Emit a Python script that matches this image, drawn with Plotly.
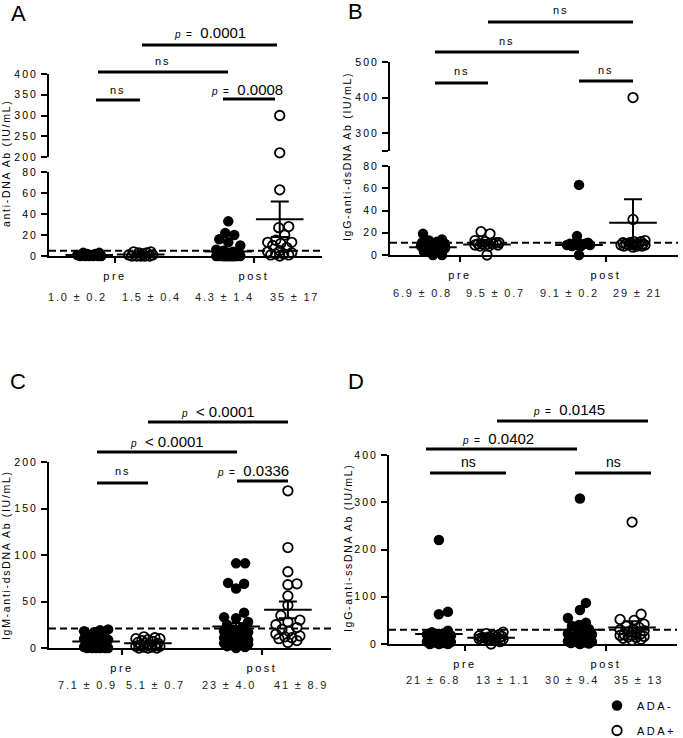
import plotly.graph_objects as go

W, H = 683, 738
FONT = "Liberation Sans, Arial, sans-serif"

timepoints = ["pre", "post"]
group_names = ["ADA-", "ADA+"]

# A: anti-DNA Ab
a_pre_neg = [0, 0, 0, 0, 0, 0, 1, 1, 2, 2, 3, 3]
a_pre_pos = [0, 0, 0, 0, 0, 1, 1, 2, 3, 3, 4, 4]
a_post_neg = [33, 22, 20, 16, 13, 10, 6, 5, 4, 3, 2, 2, 1, 1,
              0, 0, 0, 0, 0, 0, 0, 0, 0, 0, 0, 0, 0, 0, 0, 0, 0, 0]
a_post_pos = [300, 210, 63, 28, 27, 20, 15, 13, 13, 12, 10, 8, 5, 4, 3, 2, 2, 1, 1, 0]
a_mean = [1.0, 1.5, 4.3, 35]
a_sem = [0.2, 0.4, 1.4, 17]
a_stats = ["1.0 ± 0.2", "1.5 ± 0.4", "4.3 ± 1.4", "35 ± 17"]
a_cutoff = 5
a_ticks_low = [0, 20, 40, 60, 80]
a_ticks_high = [200, 250, 300, 350, 400]

# B: IgG-anti-dsDNA Ab
b_pre_neg = [19, 14, 13, 12, 11, 10, 10, 10, 9, 9, 8, 8, 6, 5, 3, 0, 0]
b_pre_pos = [21, 19, 13, 12, 11, 11, 10, 10, 10, 10, 9, 9, 9, 8, 8, 0]
b_post_neg = [63, 17, 11, 10, 10, 10, 10, 9, 9, 9, 8, 8, 0]
b_post_pos = [400, 32, 13, 12, 12, 11, 11, 10, 10, 10, 10, 10, 9, 9, 9, 9, 8, 8, 8, 7]
b_mean = [6.9, 9.5, 9.1, 29]
b_sem = [0.8, 0.7, 0.2, 21]
b_stats = ["6.9 ± 0.8", "9.5 ± 0.7", "9.1 ± 0.2", "29 ± 21"]
b_cutoff = 11
b_ticks_low = [0, 20, 40, 60, 80]
b_ticks_high = [250, 300, 400, 500]
b_labels_high = ["", "300", "400", "500"]

# C: IgM-anti-dsDNA Ab
c_pre_neg = [20, 19, 18, 17, 15, 14, 12, 10, 9, 8, 7, 6, 5, 4, 3, 2, 2, 1, 1,
             0, 0, 0, 0, 0, 0]
c_pre_pos = [12, 11, 10, 10, 9, 8, 7, 6, 5, 5, 4, 3, 3, 2, 2, 1, 1, 0, 0, 0]
c_post_neg = [91, 91, 70, 69, 64, 38, 33, 32, 28, 25, 22, 20, 18, 17, 15, 14,
              12, 11, 10, 9, 8, 7, 6, 5, 5, 4, 3, 3, 2, 1, 0]
c_post_pos = [169, 108, 82, 69, 68, 56, 46, 35, 30, 28, 25, 22, 20, 18, 15, 13,
              12, 11, 10, 8, 6]
c_mean = [7.1, 5.1, 23, 41]
c_sem = [0.9, 0.7, 4.0, 8.9]
c_stats = ["7.1 ± 0.9", "5.1 ± 0.7", "23 ± 4.0", "41 ± 8.9"]
c_cutoff = 21
c_ticks = [0, 50, 100, 150, 200]

# D: IgG-anti-ssDNA Ab
d_pre_neg = [220, 68, 63, 28, 25, 22, 20, 18, 17, 15, 14, 12, 10, 10, 8, 8, 6,
             6, 5, 4, 3, 2, 0, 0, 0]
d_pre_pos = [25, 22, 20, 18, 17, 16, 15, 15, 14, 13, 12, 12, 11, 10, 10, 9, 8, 5, 0]
d_post_neg = [308, 87, 72, 55, 45, 40, 38, 32, 28, 25, 22, 20, 18, 16, 15, 13,
              12, 10, 10, 8, 8, 6, 6, 5, 4, 3, 2, 1, 0]
d_post_pos = [258, 63, 52, 50, 42, 38, 35, 32, 30, 28, 25, 22, 20, 20, 18, 18,
              16, 15, 14, 12, 10, 8]
d_mean = [21, 13, 30, 35]
d_sem = [6.8, 1.1, 9.4, 13]
d_stats = ["21 ± 6.8", "13 ± 1.1", "30 ± 9.4", "35 ± 13"]
d_cutoff = 30
d_ticks = [0, 100, 200, 300, 400]


def sp(t, ls=2.5):
    return f'<span style="letter-spacing:{ls}px">{t}</span>'


def ns_label():
    return sp("ns", 2)


def p_label(op, val):
    if op == "<":
        return f'<i>p</i>&nbsp;&nbsp;&nbsp;<span style="font-size:15px">&lt;&nbsp;{val}</span>'
    return f'<i>p</i>&nbsp;&nbsp;=&nbsp;&nbsp;&nbsp;<span style="font-size:15px">{val}</span>'


def swarm(vals, sy, d=9.0, maxw=12):
    # simple beeswarm in pixel space, lowest values first
    order = sorted(range(len(vals)), key=lambda i: vals[i])
    cands = [0]
    for k in range(1, maxw + 1):
        cands += [k, -k]
    placed, offs = [], [0] * len(vals)
    for i in order:
        y = vals[i] * sy
        best, bestd = 0, -1.0
        for c in cands:
            md = min((((c - px) ** 2 + (y - py) ** 2) ** 0.5 for px, py in placed), default=1e9)
            if md >= d:
                best = c
                break
            if md > bestd:
                best, bestd = c, md
        placed.append((best, y))
        offs[i] = best
    return offs


panels = [
    dict(letter="A", letter_px=(18, 13), title="anti-DNA Ab (IU/mL)", title_px=(6, 164),
         data=[a_pre_neg, a_pre_pos, a_post_neg, a_post_pos], mean=a_mean, sem=a_sem,
         stats=a_stats, stats_px=([77, 151, 224, 294], 297), cutoff=a_cutoff,
         xpx=(49, 322), tickpx=(115, 254),
         segs=[dict(px=(256, 172), rng=(0, 80), ticks=a_ticks_low, labels=None),
               dict(px=(157, 74), rng=(200, 400), ticks=a_ticks_high, labels=None)],
         bars=[(142, 277, 45, 33, p_label("=", "0.0001"), 0, 10),
               (98, 228, 72, 61, ns_label(), 0, 11),
               (96, 140, 100, 90, ns_label(), 0, 11),
               (223, 275, 99, 89, p_label("=", "0.0008"), -2, 10)]),
    dict(letter="B", letter_px=(355, 11), title="IgG-anti-dsDNA Ab (IU/mL)", title_px=(347, 157),
         data=[b_pre_neg, b_pre_pos, b_post_neg, b_post_pos], mean=b_mean, sem=b_sem,
         stats=b_stats, stats_px=([422, 495, 569, 637], 293), cutoff=b_cutoff,
         xpx=(390, 678), tickpx=(460, 606),
         segs=[dict(px=(255, 166), rng=(0, 80), ticks=b_ticks_low, labels=None),
               dict(px=(151, 62), rng=(250, 500), ticks=b_ticks_high, labels=b_labels_high)],
         bars=[(488, 633, 22, 10, ns_label(), 0, 11),
               (435, 579, 52, 41, ns_label(), 0, 11),
               (435, 488, 83, 71, ns_label(), 0, 11),
               (579, 633, 81, 70, ns_label(), 0, 11)]),
    dict(letter="C", letter_px=(18, 381), title="IgM-anti-dsDNA Ab (IU/mL)", title_px=(6, 555),
         data=[c_pre_neg, c_pre_pos, c_post_neg, c_post_pos], mean=c_mean, sem=c_sem,
         stats=c_stats, stats_px=([87, 155, 229, 301], 685), cutoff=c_cutoff,
         xpx=(49, 331), tickpx=(122, 262),
         segs=[dict(px=(648, 462), rng=(0, 200), ticks=c_ticks, labels=None)],
         bars=[(148, 288, 422, 411, p_label("<", "0.0001"), 0, 10),
               (97, 237, 452, 441, p_label("<", "0.0001"), 0, 10),
               (97, 148, 483, 471, ns_label(), 0, 11),
               (237, 288, 481, 470, p_label("=", "0.0336"), -10, 10)]),
    dict(letter="D", letter_px=(356, 381), title="IgG-anti-ssDNA Ab (IU/mL)", title_px=(348, 548),
         data=[d_pre_neg, d_pre_pos, d_post_neg, d_post_pos], mean=d_mean, sem=d_sem,
         stats=d_stats, stats_px=([433, 503, 572, 638], 680), cutoff=d_cutoff,
         xpx=(389, 677), tickpx=(465, 606),
         segs=[dict(px=(644, 455), rng=(0, 400), ticks=d_ticks, labels=None)],
         bars=[(497, 648, 421, 409, p_label("=", "0.0145"), -4, 10),
               (426, 577, 449, 439, p_label("=", "0.0402"), -4, 10),
               (430, 506, 473, 462, "ns", 0, 14),
               (575, 651, 473, 462, "ns", 0, 14)]),
]

OFF = 0.185
fig = go.Figure()
layout = dict(width=W, height=H, margin=dict(l=0, r=0, t=0, b=0, autoexpand=False),
              paper_bgcolor="white", plot_bgcolor="white",
              font=dict(family=FONT, size=11, color="black"))
shapes, annotations = [], []
ycount = 0

for i, p in enumerate(panels):
    xid = i + 1
    xname = "x" if xid == 1 else f"x{xid}"
    x0, x1 = p["xpx"]
    t0, t1 = p["tickpx"]
    sx = t1 - t0
    xr = [1 - (t0 - x0) / sx, 2 + (x1 - t1) / sx]

    ynames = []
    for s in p["segs"]:
        ycount += 1
        yname = "y" if ycount == 1 else f"y{ycount}"
        ynames.append(yname)
        labels = s["labels"] if s["labels"] is not None else [str(v) for v in s["ticks"]]
        layout["yaxis" if ycount == 1 else f"yaxis{ycount}"] = dict(
            domain=[1 - s["px"][0] / H, 1 - s["px"][1] / H], range=list(s["rng"]),
            anchor=xname, tickvals=s["ticks"], ticktext=[sp(t, 2.0) for t in labels],
            showline=True, linewidth=2, linecolor="black", ticks="outside",
            ticklen=6, tickwidth=2, tickcolor="black", showgrid=False, zeroline=False,
            tickfont=dict(size=10.5, family=FONT), ticklabelstandoff=1)

    layout["xaxis" if xid == 1 else f"xaxis{xid}"] = dict(
        domain=[x0 / W, x1 / W], range=xr, anchor=ynames[0],
        tickvals=[1, 2], ticktext=[sp(t) for t in timepoints],
        showline=True, linewidth=2, linecolor="black", ticks="outside",
        ticklen=5, tickwidth=2, tickcolor="black", showgrid=False, zeroline=False,
        tickfont=dict(size=11, family=FONT), ticklabelstandoff=4)

    xcs = []
    for g, vals in enumerate(p["data"]):
        xc = 1 + g // 2 + (OFF if g % 2 else -OFF)
        xcs.append(xc)
        filled = g % 2 == 0
        for k, s in enumerate(p["segs"]):
            brk = p["segs"][0]["rng"][1]
            sub = [v for v in vals if v <= brk] if k == 0 else [v for v in vals if v > brk]
            if not sub:
                continue
            sy = (s["px"][0] - s["px"][1]) / (s["rng"][1] - s["rng"][0])
            offs = swarm([v - s["rng"][0] for v in sub], sy)
            marker = (dict(symbol="circle", size=10.5, color="black") if filled else
                      dict(symbol="circle-open", size=9.5, color="black", line=dict(width=1.8, color="black")))
            fig.add_trace(go.Scatter(
                x=[xc + o / sx for o in offs], y=sub, mode="markers", marker=marker,
                xaxis=xname, yaxis=ynames[k], cliponaxis=False,
                name=sp(group_names[g % 2]), legendgroup=group_names[g % 2],
                showlegend=(i == 0 and k == 0 and g < 2), hoverinfo="y"))

    fig.add_trace(go.Scatter(
        x=xcs, y=p["mean"], mode="markers", xaxis=xname, yaxis=ynames[0], cliponaxis=False,
        marker=dict(symbol="line-ew", size=34, color="black", line=dict(width=2, color="black")),
        error_y=dict(type="data", array=p["sem"], visible=True, color="black", thickness=2, width=9),
        showlegend=False, hoverinfo="y"))

    shapes.append(dict(type="line", xref=f"{xname} domain", yref=ynames[0], x0=0, x1=1,
                       y0=p["cutoff"], y1=p["cutoff"], line=dict(color="black", width=2, dash="7px,4px")))

    for bx0, bx1, by, ty, label, shift, fs in p["bars"]:
        shapes.append(dict(type="line", xref="paper", yref="paper", x0=bx0 / W, x1=bx1 / W,
                           y0=1 - by / H, y1=1 - by / H, line=dict(color="black", width=3)))
        annotations.append(dict(text=label, x=((bx0 + bx1) / 2 + shift) / W, y=1 - ty / H,
                                xref="paper", yref="paper", showarrow=False, xanchor="center",
                                yanchor="middle", font=dict(size=fs, family=FONT, color="black")))

    sxs, sty = p["stats_px"]
    for cx, txt in zip(sxs, p["stats"]):
        annotations.append(dict(text=sp(txt, 1.8), x=cx / W, y=1 - sty / H, xref="paper", yref="paper",
                                showarrow=False, xanchor="center", yanchor="middle",
                                font=dict(size=11, family=FONT, color="#222")))

    lx, ly = p["letter_px"]
    annotations.append(dict(text=p["letter"], x=lx / W, y=1 - ly / H, xref="paper", yref="paper",
                            showarrow=False, xanchor="center", yanchor="middle",
                            font=dict(size=22, family=FONT, color="black")))
    tx, ty = p["title_px"]
    annotations.append(dict(text=sp(p["title"], 1.7), x=tx / W, y=1 - ty / H, xref="paper", yref="paper",
                            showarrow=False, textangle=-90, xanchor="center", yanchor="middle",
                            font=dict(size=10.5, family=FONT, color="black")))

layout["shapes"] = shapes
layout["annotations"] = annotations
layout["legend"] = dict(x=597 / W, y=1 - 691 / H, xanchor="left", yanchor="top",
                        traceorder="grouped", tracegroupgap=6, bgcolor="rgba(0,0,0,0)",
                        font=dict(size=11, family=FONT, color="black"))
fig.update_layout(**layout)
# page body has a default 8px margin; drop it so the figure fills the window
fig.write_html("out.html", config={"displayModeBar": False},
               post_script="document.body.style.margin='0';")
